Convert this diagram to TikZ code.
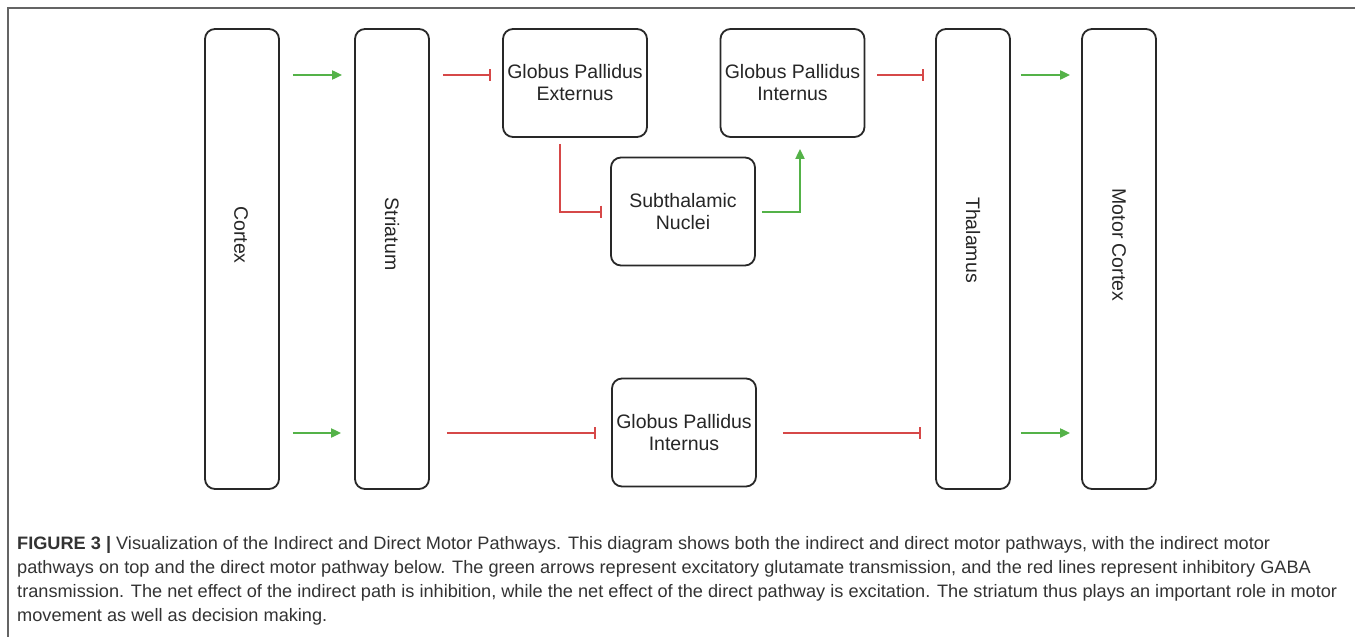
\documentclass[tikz,border=0pt]{standalone}
\usepackage{graphicx}
\usepackage{fontspec}
\setmainfont{Liberation Sans}
\usetikzlibrary{arrows.meta}
\definecolor{exgreen}{RGB}{84,178,72}
\definecolor{inred}{RGB}{214,72,72}
\definecolor{boxline}{RGB}{40,40,40}
\definecolor{captext}{RGB}{51,51,51}
\definecolor{framegray}{RGB}{100,100,100}
\newsavebox\mycapbox
\newcommand\mycapfont{\fontsize{18}{22}\selectfont\color{captext}}
\begin{document}
\sbox\mycapbox{\mycapfont transmission. The net effect of the indirect path is inhibition, while the net effect of the direct pathway is excitation. The striatum thus plays an important role in motor}%
\pgfmathsetmacro\capsx{1320/\the\wd\mycapbox}%
\begin{tikzpicture}[x=1pt,y=-1pt,
  box/.style={draw=boxline, line width=1.8pt, rounded corners=10pt, inner sep=0pt},
  tallbox/.style={box, minimum width=74pt, minimum height=460pt},
  smallbox/.style={box, minimum width=144pt, minimum height=108pt, align=center,
    font=\fontsize{19.5}{22}\selectfont, text=black!85},
  lbl/.style={font=\fontsize{19.5}{22}\selectfont, text=black!85, inner sep=0pt},
  exc/.style={draw=exgreen, line width=2pt, -{Triangle[length=10pt,width=9pt]}},
  inh/.style={draw=inred, line width=2pt, -{Bar[width=12pt,line width=2pt]}},
  capline/.style={anchor=base west, inner sep=0pt}
]
\useasboundingbox (0,0) rectangle (1355,637);
\fill[white] (0,0) rectangle (1355,637);
% frame
\draw[framegray, line width=1.5pt] (8,637) -- (8,8) -- (1355,8);

% tall boxes
\node[tallbox] (cortex)   at (242,259) {};
\node[tallbox] (striatum) at (392,259) {};
\node[tallbox] (thalamus) at (973,259) {};
\node[tallbox] (motor)    at (1119,259) {};
\node[lbl, rotate=-90] at (241,235) {Cortex};
\node[lbl, rotate=-90] at (392,234) {Striatum};
\node[lbl, rotate=-90] at (973,240) {Thalamus};
\node[lbl, rotate=-90] at (1119,245) {Motor Cortex};

% small boxes
\node[smallbox] (gpe)  at (575,83)    {Globus Pallidus\\Externus};
\node[smallbox] (gpit) at (792.5,83)  {Globus Pallidus\\Internus};
\node[smallbox] (stn)  at (683,211.5) {Subthalamic\\Nuclei};
\node[smallbox] (gpib) at (684,432.5) {Globus Pallidus\\Internus};

\coordinate (yA) at (0,75);
\coordinate (yB) at (0,433);

% indirect pathway (top)
\draw[exc, shorten <=13pt, shorten >=12pt] (cortex.east |- yA) -- (striatum.west |- yA);
\draw[inh, shorten <=13pt, shorten >=11pt] (striatum.east |- yA) -- (gpe.west |- yA);
\draw[inh, shorten <=6pt, shorten >=8pt] ([xshift=-15pt]gpe.south) |- (stn.west);
\draw[exc, shorten <=6pt, shorten >=11pt] (stn.east) -| ([xshift=7.5pt]gpit.south);
\draw[inh, shorten <=12pt, shorten >=11pt] (gpit.east |- yA) -- (thalamus.west |- yA);
\draw[exc, shorten <=10pt, shorten >=11pt] (thalamus.east |- yA) -- (motor.west |- yA);

% direct pathway (bottom)
\draw[exc, shorten <=13pt, shorten >=13pt] (cortex.east |- yB) -- (striatum.west |- yB);
\draw[inh, shorten <=17pt, shorten >=15pt] (striatum.east |- yB) -- (gpib.west |- yB);
\draw[inh, shorten <=26pt, shorten >=14pt] (gpib.east |- yB) -- (thalamus.west |- yB);
\draw[exc, shorten <=10pt, shorten >=11pt] (thalamus.east |- yB) -- (motor.west |- yB);

% caption
\node[capline] (c1) at (17,549) {\scalebox{\capsx}[1]{\mycapfont\textbf{FIGURE 3 |} Visualization of the Indirect and Direct Motor Pathways. This diagram shows both the indirect and direct motor pathways, with the indirect motor}};
\node[capline] (c2) at (17,573) {\scalebox{\capsx}[1]{\mycapfont pathways on top and the direct motor pathway below. The green arrows represent excitatory glutamate transmission, and the red lines represent inhibitory GABA}};
\node[capline] (c3) at (17,597) {\scalebox{\capsx}[1]{\mycapfont transmission. The net effect of the indirect path is inhibition, while the net effect of the direct pathway is excitation. The striatum thus plays an important role in motor}};
\node[capline] (c4) at (17,621) {\scalebox{\capsx}[1]{\mycapfont movement as well as decision making.}};
\end{tikzpicture}
\end{document}
